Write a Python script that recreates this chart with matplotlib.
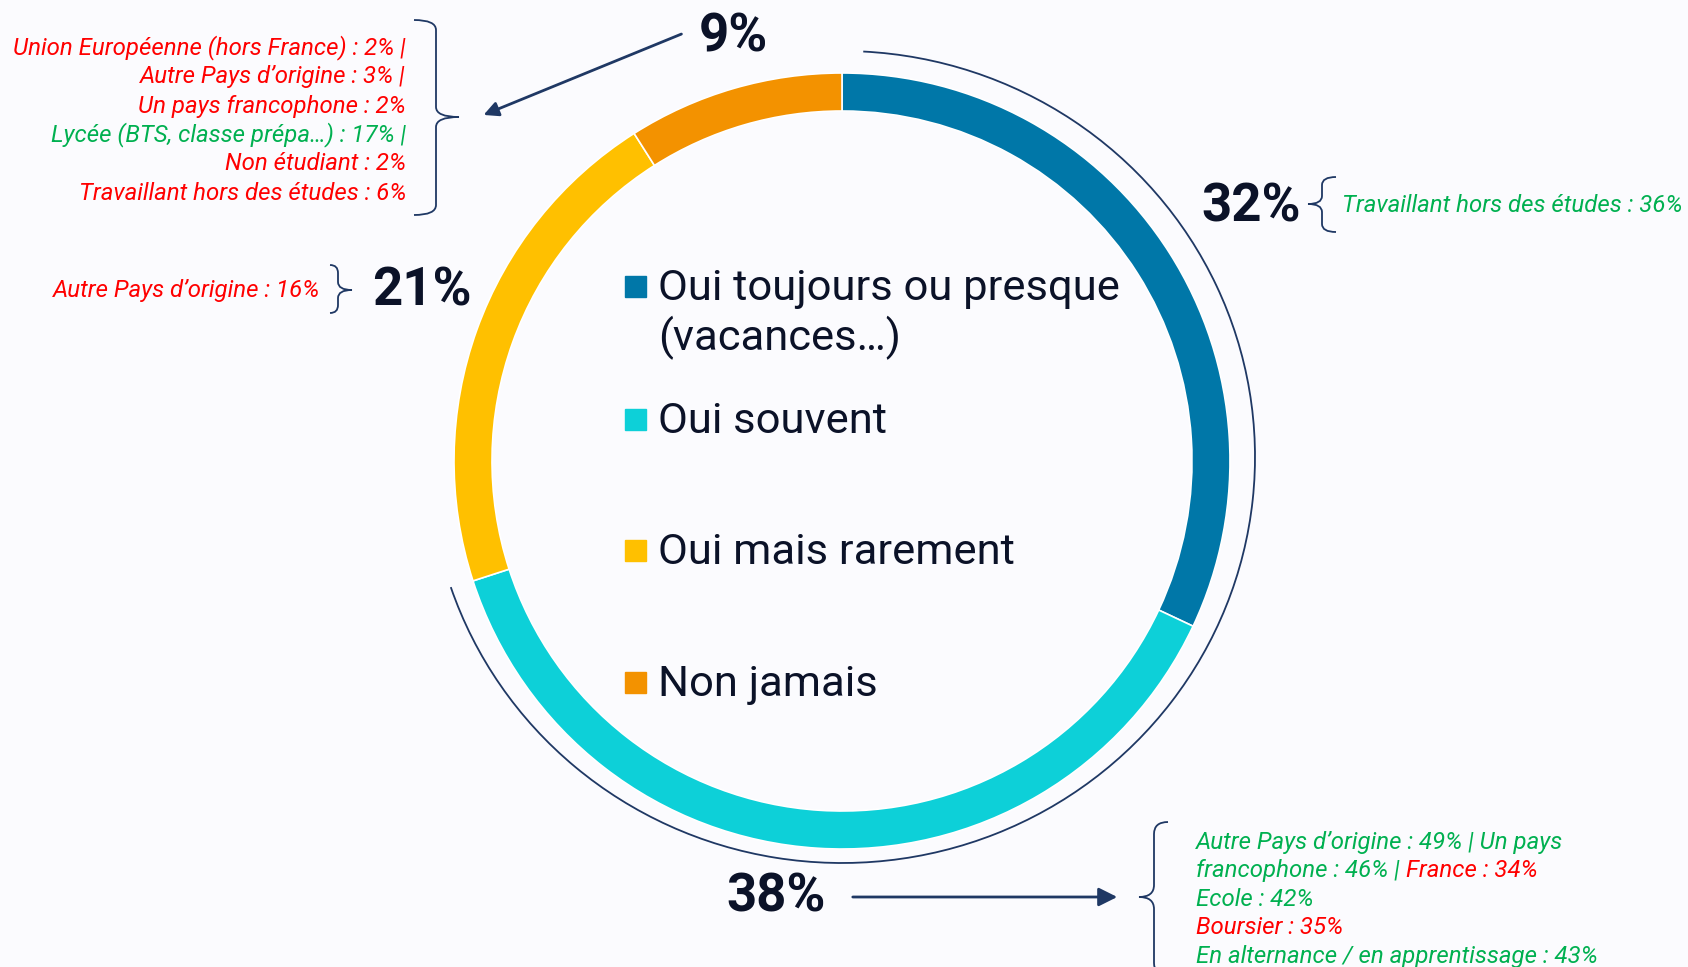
import matplotlib.pyplot as plt
from matplotlib.patches import Arc, Rectangle, PathPatch
from matplotlib.path import Path

# Data
categories = ["Oui toujours ou presque\n(vacances…)", "Oui souvent",
              "Oui mais rarement", "Non jamais"]
values = [32, 38, 21, 9]
colors = ["#0077a8", "#0dd0d8", "#ffc000", "#f39200"]

RED = "#ff0000"
GREEN = "#00b050"
NAVY = "#1f3864"
DARK = "#0b1228"

top_left_notes = [
    ("Union Européenne (hors France) : 2% |", RED),
    ("Autre Pays d’origine : 3% |", RED),
    ("Un pays francophone : 2%", RED),
    ("Lycée (BTS, classe prépa…) : 17% |", GREEN),
    ("Non étudiant : 2%", RED),
    ("Travaillant hors des études : 6%", RED),
]
note_21 = "Autre Pays d’origine : 16%"
note_32 = "Travaillant hors des études : 36%"
bottom_notes = [
    [("Autre Pays d’origine : 49% | Un pays", GREEN)],
    [("francophone : 46% | ", GREEN), ("France : 34%", RED)],
    [("Ecole : 42%", GREEN)],
    [("Boursier : 35%", RED)],
    [("En alternance / en apprentissage : 43%", GREEN)],
]

W, H = 1688, 967
fig = plt.figure(figsize=(W / 100, H / 100), dpi=100, facecolor="#fbfbfe")
ax = fig.add_axes([0, 0, 1, 1])
ax.set_facecolor("#fbfbfe")

# Donut (y axis is inverted, so start at -90 and go "counterclock" = visually clockwise)
cx, cy, r = 842, 461, 388
ax.pie(values, colors=colors, center=(cx, cy), radius=r, startangle=-90,
       counterclock=True, wedgeprops=dict(width=38, edgecolor="white", linewidth=1.2))

# Thin arc around the first two segments
ax.add_patch(Arc((cx, 457), 826, 812, theta1=-87, theta2=161.6, color=NAVY, lw=1.3))

ax.set_xlim(0, W)
ax.set_ylim(H, 0)
ax.set_aspect("equal")
ax.axis("off")

# Legend inside the donut
leg_y = [287, 420, 551, 683]
for cat, col, y in zip(categories, colors, leg_y):
    ax.add_patch(Rectangle((625, y - 11), 21, 21, color=col))
    ax.text(658, y - 19, cat, fontsize=31.3, family="Roboto", color=DARK,
            va="top", ha="left", linespacing=1.2)

# Percentage labels
pct_pos = [(1251, 207), (776, 897), (422, 291), (733, 37)]
for v, (x, y) in zip(values, pct_pos):
    ax.text(x, y, f"{v}%", fontsize=38, family="Roboto", weight="bold",
            color=DARK, ha="center", va="center")


def brace(x_tip, x_mid, x_end, y0, y1, y_tip, rad=10):
    verts = [(x_end, y0), (x_mid, y0), (x_mid, y0 + rad),
             (x_mid, y_tip - rad), (x_mid, y_tip), (x_tip, y_tip),
             (x_mid, y_tip), (x_mid, y_tip + rad),
             (x_mid, y1 - rad), (x_mid, y1), (x_end, y1)]
    codes = [Path.MOVETO, Path.CURVE3, Path.CURVE3, Path.LINETO,
             Path.CURVE3, Path.CURVE3, Path.CURVE3, Path.CURVE3,
             Path.LINETO, Path.CURVE3, Path.CURVE3]
    ax.add_patch(PathPatch(Path(verts, codes), fill=False, color=NAVY, lw=1.3))


note_kw = dict(fontsize=17.3, family="Roboto", style="italic")

# Top-left notes (for 9%)
for i, (txt, col) in enumerate(top_left_notes):
    ax.text(406, 48 + i * 29, txt, color=col, ha="right", va="center", **note_kw)
brace(459, 436, 414, 20, 215, 117)
ax.annotate("", xy=(481, 116), xytext=(684, 33),
            arrowprops=dict(arrowstyle="-|>", color=NAVY, lw=2, mutation_scale=22))

# 21% note
ax.text(320, 290, note_21, color=RED, ha="right", va="center", **note_kw)
brace(352, 338, 330, 265, 313, 290, rad=8)

# 32% note
ax.text(1342, 205, note_32, color=GREEN, ha="left", va="center", **note_kw)
brace(1308, 1322, 1336, 177, 232, 204, rad=8)

# 38% notes
ax.annotate("", xy=(1120, 897), xytext=(850, 897),
            arrowprops=dict(arrowstyle="-|>", color=NAVY, lw=2, mutation_scale=28))
brace(1139, 1154, 1168, 822, 975, 897, rad=12)
for i, parts in enumerate(bottom_notes):
    prev = ax.text(1196, 842 + i * 28.5, parts[0][0], color=parts[0][1],
                   ha="left", va="center", **note_kw)
    for txt, col in parts[1:]:
        prev = ax.annotate(txt, xy=(1, 0), xycoords=prev, color=col,
                           ha="left", va="bottom", **note_kw)

fig.savefig("out.png", dpi=100, facecolor=fig.get_facecolor())
